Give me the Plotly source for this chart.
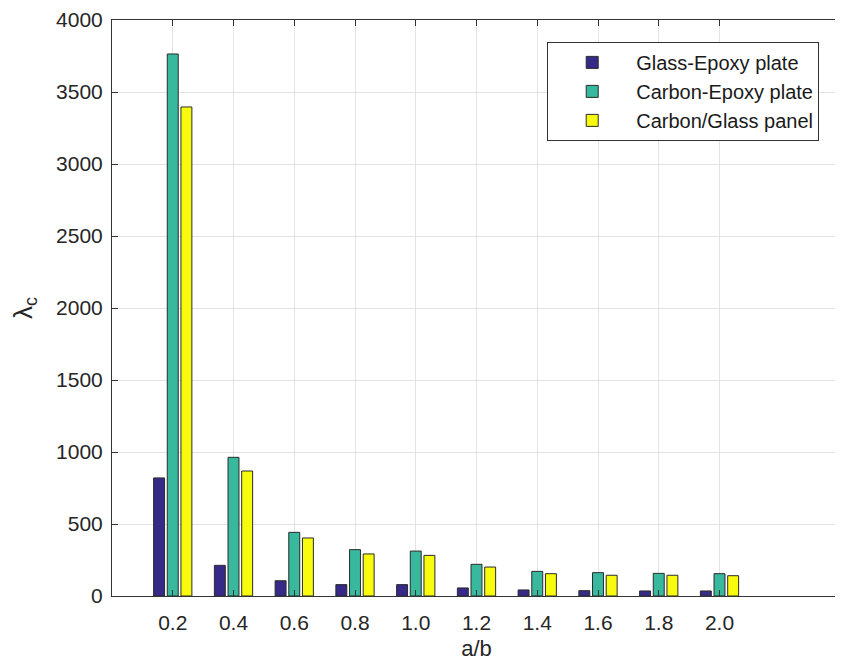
import plotly.graph_objects as go

ratios = [0.2, 0.4, 0.6, 0.8, 1.0, 1.2, 1.4, 1.6, 1.8, 2.0]
glass_epoxy = [820, 213, 106, 79, 79, 56, 42, 37, 35, 35]
carbon_epoxy = [3764, 963, 442, 322, 312, 220, 171, 162, 157, 155]
carbon_glass = [3396, 868, 403, 292, 282, 201, 155, 144, 144, 141]
series_names = ["Glass-Epoxy plate", "Carbon-Epoxy plate", "Carbon/Glass panel"]
series_colors = ["#352A87", "#38B89D", "#F9FB0E"]
y_ticks = [0, 500, 1000, 1500, 2000, 2500, 3000, 3500, 4000]

fig = go.Figure()
for name, vals, col in zip(series_names, [glass_epoxy, carbon_epoxy, carbon_glass], series_colors):
    fig.add_trace(go.Bar(x=ratios, y=vals, name=name,
                         marker=dict(color=col, line=dict(color="#2b2b2b", width=1))))

font_fam = "Liberation Sans, Arial, sans-serif"
axis_common = dict(showline=True, linecolor="#333333", linewidth=1, mirror="ticks",
                   ticks="inside", ticklen=6, tickcolor="#333333", automargin=False,
                   showgrid=True, gridcolor="#e3e3e3", gridwidth=1, zeroline=False,
                   tickfont=dict(family=font_fam, size=21, color="#262626"))

fig.update_layout(
    width=843, height=664,
    margin=dict(l=104, r=10, t=12, b=76),
    paper_bgcolor="white", plot_bgcolor="white",
    barmode="group", bargap=0.325, bargroupgap=0.2,
    font=dict(family=font_fam, color="#262626"),
    xaxis=dict(range=[0, 2.4], tickvals=ratios, tickformat=".1f", ticklabelstandoff=8,
               title=dict(text="a/b", font=dict(size=22, family=font_fam), standoff=7),
               **axis_common),
    yaxis=dict(range=[0, 4000], tickvals=y_ticks, ticklabelstandoff=4,
               title=dict(text="λ<sub>c</sub>", font=dict(size=26, family=font_fam), standoff=16),
               **axis_common),
    legend=dict(x=0.597, y=0.962, xanchor="left", yanchor="top",
                bgcolor="white", bordercolor="#333333", borderwidth=1,
                font=dict(size=20, family=font_fam, color="#1a1a1a"),
                itemwidth=78, tracegroupgap=0),
    showlegend=True,
)

fig.write_html("out.html")
